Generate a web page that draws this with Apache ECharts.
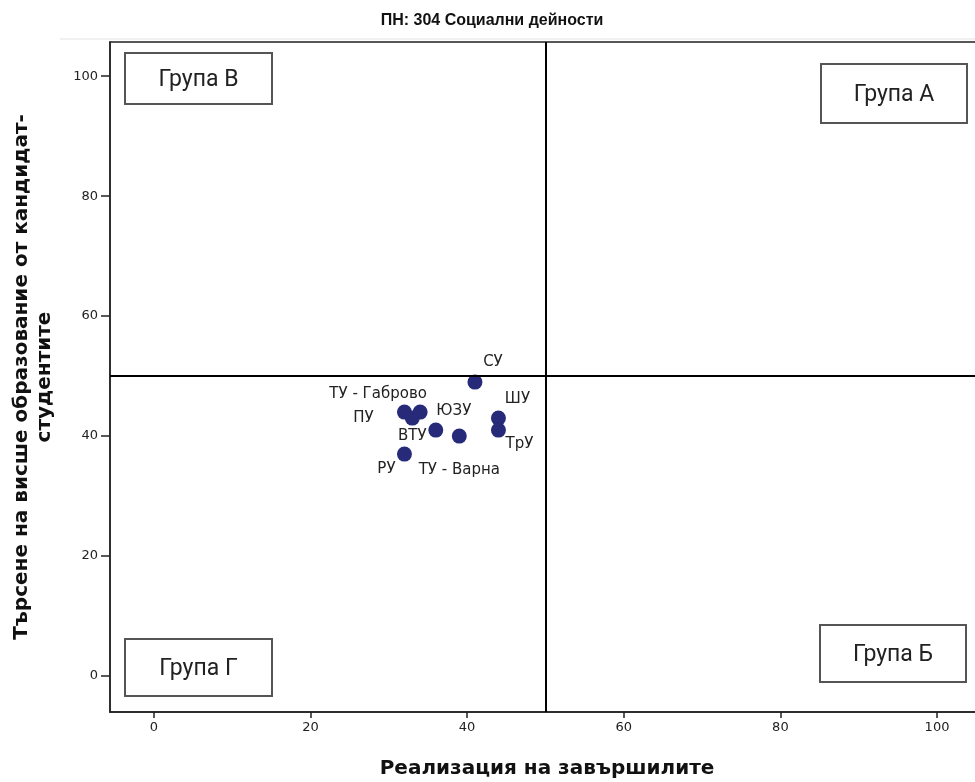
<!DOCTYPE html>
<html>
<head>
<meta charset="utf-8">
<script src="https://cdn.jsdelivr.net/npm/echarts@6/dist/echarts.min.js"></script>
<style>html,body{margin:0;padding:0;background:#fff}#main{width:975px;height:782px}</style>
</head>
<body>
<div id="main"></div>
<script>
// universities and their (realisation, demand) values
var names = ['СУ', 'ТУ - Габрово', 'ПУ', 'ВТУ', 'ЮЗУ', 'ТУ - Варна', 'ШУ', 'ТрУ', 'РУ'];
var xVals = [41, 34, 32, 33, 36, 39, 44, 44, 32];
var yVals = [49, 44, 44, 43, 41, 40, 43, 41, 37];
var tickLabels = [0, 20, 40, 60, 80, 100];
var refX = 50, refY = 50;

// label placement around each point (px)
var labelOffsets = {
    'СУ': [18, -20], 'ТУ - Габрово': [-42, -18], 'ПУ': [-41, 6], 'ВТУ': [0, 18],
    'ЮЗУ': [18, -19], 'ТУ - Варна': [0, 34], 'ШУ': [19, -19], 'ТрУ': [21, 14], 'РУ': [-18, 15]
};

var pts = [];
for (var i = 0; i < names.length; i++) {
    pts.push({
        name: names[i],
        value: [xVals[i], yVals[i]],
        label: {offset: labelOffsets[names[i]]}
    });
}

function groupBox(l, t, r, b, txt) {
    return {
        type: 'group',
        children: [
            {type: 'rect', shape: {x: l, y: t, width: r - l, height: b - t},
             style: {fill: '#fff', stroke: '#555', lineWidth: 2}},
            {type: 'text', x: (l + r) / 2, y: (t + b) / 2 + 2,
             style: {text: txt, fill: '#222', font: '23px Roboto, "DejaVu Sans", sans-serif',
                     align: 'center', verticalAlign: 'middle'}}
        ]
    };
}

var titleFont = '"DejaVu Sans", Verdana, sans-serif';

var myChart = echarts.init(document.getElementById('main'));
var option = {
    animation: false,
    title: {
        text: 'ПН: 304 Социални дейности',
        left: 487, top: 8, textAlign: 'center',
        textStyle: {fontFamily: '"Liberation Sans Narrow", "Liberation Sans", sans-serif', fontSize: 16, fontWeight: 'bold', color: '#111'}
    },
    grid: {left: 110, top: 42, width: 874, height: 670, outerBoundsMode: 'none', containLabel: false},
    xAxis: {
        type: 'value', min: -5.6, max: 106,
        name: 'Реализация на завършилите', nameLocation: 'middle', nameGap: 47,
        nameTextStyle: {fontSize: 20, fontWeight: 'bold', color: '#111', fontFamily: titleFont},
        axisLine: {onZero: false, lineStyle: {color: '#222', width: 1.5}},
        axisTick: {show: true, length: 6, customValues: tickLabels, lineStyle: {color: '#222', width: 1.5}},
        axisLabel: {customValues: tickLabels, color: '#222', fontSize: 13, margin: 9, fontFamily: '"DejaVu Sans", sans-serif'},
        splitLine: {show: false}
    },
    yAxis: {
        type: 'value', min: -6, max: 105.7,
        name: 'Търсене на висше образование от кандидат-\nстудентите', nameLocation: 'middle', nameGap: 54,
        nameTextStyle: {fontSize: 20, fontWeight: 'bold', color: '#111', lineHeight: 23, fontFamily: titleFont},
        axisLine: {show: true, onZero: false, lineStyle: {color: '#222', width: 1.5}},
        axisTick: {show: true, length: 9, customValues: tickLabels, lineStyle: {color: '#222', width: 1.5}},
        axisLabel: {customValues: tickLabels, color: '#222', fontSize: 13, margin: 12, fontFamily: '"DejaVu Sans", sans-serif'},
        splitLine: {show: false}
    },
    graphic: [
        {type: 'line', shape: {x1: 60, y1: 39, x2: 975, y2: 39}, style: {stroke: '#e3e3e3', lineWidth: 1}},
        {type: 'rect', shape: {x: 110, y: 42, width: 874, height: 670}, style: {fill: 'none', stroke: '#222', lineWidth: 1.5}, z: 1},
        groupBox(125, 53, 272, 104, 'Група В'),
        groupBox(821, 64, 967, 123, 'Група А'),
        groupBox(125, 639, 272, 696, 'Група Г'),
        groupBox(820, 625, 966, 682, 'Група Б')
    ],
    series: [{
        type: 'scatter',
        symbolSize: 15,
        itemStyle: {color: '#262a78', opacity: 1},
        label: {show: true, position: 'inside', formatter: '{b}', color: '#222', fontSize: 15, fontFamily: '"DejaVu Sans", sans-serif'},
        data: pts,
        markLine: {
            silent: true, symbol: 'none',
            label: {show: false},
            lineStyle: {color: '#000', width: 2, type: 'solid'},
            data: [{xAxis: refX}, {yAxis: refY}]
        }
    }]
};
myChart.setOption(option);
</script>
</body>
</html>
